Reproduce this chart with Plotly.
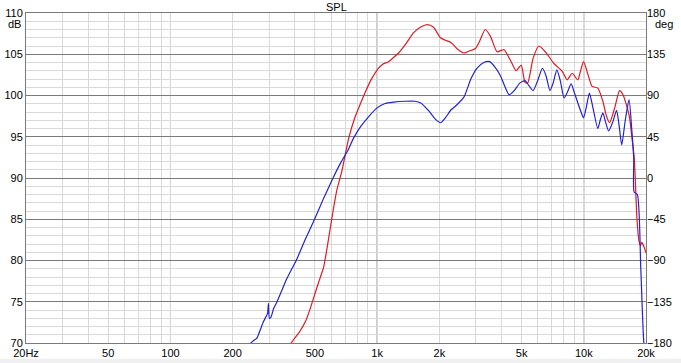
import plotly.graph_objects as go

# ---- data ----
blue_freq = [220, 250, 262, 272, 282, 290, 295, 298, 301, 306, 316, 328, 345, 364, 385, 406, 450, 498, 550, 612, 665, 724, 768, 830, 900, 1000,
             1085, 1200, 1380, 1525, 1625, 1770, 1920, 2025, 2140, 2285, 2390, 2630, 2840, 3040, 3285, 3505, 3725, 3950, 4165, 4350,
             4605, 4900, 5195, 5390, 5685, 5980, 6310, 6565, 6860, 7105, 7410, 7695, 8035, 8330, 8685, 9015, 9360, 9700, 9975,
             10290, 10650, 11075, 11690, 12005, 12370, 12740, 13190, 13820, 14405, 14800, 15260, 15875, 16560, 17050, 17440,
             17520, 18160, 18875, 19530, 20000]
blue_db = [68.8, 70.2, 70.6, 71.6, 72.6, 73.2, 73.6, 74.8, 73.0, 73.1, 74.2, 75.0, 76.3, 77.7, 78.9, 80.0, 82.6, 85.0, 87.5, 90.0, 91.8, 93.4, 94.8, 96.2, 97.3, 98.5,
           99.0, 99.2, 99.3, 99.3, 99.1, 98.2, 97.1, 96.7, 97.3, 98.3, 98.7, 99.8, 102.0, 103.3, 104.0, 104.1, 103.4, 102.4, 101.0, 100.1,
           100.6, 101.5, 101.8, 101.3, 100.6, 101.8, 103.3, 102.4, 100.6, 101.5, 103.1, 101.8, 99.7, 100.4, 101.4, 100.3, 99.1, 98.0, 97.3,
           98.6, 100.3, 98.5, 96.0, 97.0, 97.9, 96.8, 95.7, 96.8, 98.2, 96.5, 94.0, 97.0, 99.5, 96.0, 92.4,
           88.3, 88.0, 79.0, 70.0, 68.5]

red_freq = [350, 384, 420, 450, 475, 505, 530, 550, 575, 594, 615, 638, 676, 706, 730, 780, 830, 873, 930, 1014,
            1065, 1135, 1200, 1270, 1380, 1500, 1625, 1750, 1870, 2025, 2140, 2285, 2450, 2630, 2795, 2990, 3135, 3335, 3530,
            3805, 4020, 4120, 4410, 4705, 4980, 5195, 5350, 5685, 6060, 6565, 7160, 7880, 8310, 8780, 9350, 9650, 9975,
            10490, 10975, 11690, 12370, 12840, 13330, 14110, 14900, 15480, 15975, 16660, 17100, 17550, 18060, 18460,
            18800, 19100, 19600, 20000]
red_db = [67.0, 70.0, 71.3, 72.6, 74.2, 76.3, 77.9, 79.1, 81.8, 84.0, 86.3, 88.5, 90.9, 93.2, 94.9, 97.3, 99.0, 100.3, 101.8, 103.3,
          103.8, 104.1, 104.6, 105.15, 106.3, 107.6, 108.3, 108.6, 108.3, 107.0, 106.7, 106.4, 105.6, 105.15, 105.4, 105.7, 106.6, 108.0, 107.2,
          105.3, 105.5, 105.55, 104.3, 103.0, 103.7, 101.6, 101.5, 104.5, 106.0, 105.2, 103.9, 102.9, 101.9, 102.7, 101.9, 103.0, 104.1,
          102.5, 101.1, 100.9, 99.3, 97.6, 96.7, 98.5, 100.6, 100.1, 99.1, 97.3, 94.85, 92.4, 85.3, 82.5,
          81.8, 82.2, 81.6, 80.9]

x_grid_vals = [20, 30, 40, 50, 60, 70, 80, 90, 100, 200, 300, 400, 500, 600, 700, 800, 900,
               1000, 2000, 3000, 4000, 5000, 6000, 7000, 8000, 9000, 10000, 20000]
x_labels = {20: "20Hz", 50: "50", 100: "100", 200: "200", 500: "500", 1000: "1k", 2000: "2k",
            5000: "5k", 10000: "10k", 20000: "20k"}
major_decades = [100, 1000, 10000]
db_ticks = [70, 75, 80, 85, 90, 95, 100, 105, 110]
deg_ticks = [-180, -135, -90, -45, 0, 45, 90, 135, 180]

FONT = "Liberation Sans"
DARK = "#7a7a7a"
LIGHT = "#d9d9d9"

fig = go.Figure()
fig.add_trace(go.Scatter(x=red_freq, y=red_db, mode="lines",
                         line=dict(color="rgb(228,24,32)", width=1.2, shape="spline", smoothing=0.6),
                         showlegend=False, hoverinfo="skip"))
fig.add_trace(go.Scatter(x=blue_freq, y=blue_db, mode="lines",
                         line=dict(color="rgb(34,34,214)", width=1.2, shape="spline", smoothing=0.6),
                         showlegend=False, hoverinfo="skip"))
fig.add_trace(go.Scatter(x=[20, 20000], y=[-180, 180], yaxis="y2", mode="lines",
                         line=dict(width=0, color="rgba(0,0,0,0)"), showlegend=False, hoverinfo="skip"))

for d in major_decades:
    fig.add_shape(type="line", xref="x", yref="paper", x0=d, x1=d, y0=0, y1=1,
                  line=dict(color=DARK, width=1), layer="between")

fig.update_layout(
    width=681, height=363,
    margin=dict(l=26, r=35, t=13, b=20),
    paper_bgcolor="white", plot_bgcolor="white",
    font=dict(family=FONT, size=11, color="#000"),
    xaxis=dict(type="log", range=[1.30103, 4.30103], automargin=False,
               tickvals=x_grid_vals, ticktext=[x_labels.get(v, "") for v in x_grid_vals],
               showgrid=True, gridcolor=LIGHT, gridwidth=1, zeroline=False,
               showline=True, linecolor=DARK, linewidth=1, mirror=True, ticks="",
               tickfont=dict(size=11), tickangle=0),
    yaxis=dict(range=[70, 110], tickvals=db_ticks, showgrid=True, gridcolor=DARK, gridwidth=1,
               automargin=False,
               minor=dict(dtick=1, tick0=70, showgrid=True, gridcolor=LIGHT, gridwidth=1),
               zeroline=False, showline=True, linecolor=DARK, linewidth=1, mirror=True, ticks="",
               tickfont=dict(size=11)),
    yaxis2=dict(range=[-180, 180], tickvals=deg_ticks, overlaying="y", side="right", automargin=False,
                showgrid=False, zeroline=False, showline=False, ticks="", tickfont=dict(size=11)),
    annotations=[
        dict(text="SPL", xref="paper", yref="paper", x=0.5, y=1, yanchor="bottom", showarrow=False,
             font=dict(size=11), yshift=-2),
        dict(text="dB", xref="paper", yref="paper", x=0, y=1, xanchor="right", yanchor="top",
             showarrow=False, font=dict(size=11), xshift=-3, yshift=-3),
        dict(text="deg", xref="paper", yref="paper", x=1, y=1, xanchor="left", yanchor="top",
             showarrow=False, font=dict(size=11), xshift=7, yshift=-3),
    ],
    shapes=list(fig.layout.shapes) + [
        dict(type="rect", xref="paper", yref="paper", x0=-0.1, x1=1.1, y0=-0.1, y1=-0.048,
             fillcolor="#f0f0f0", line=dict(width=0), layer="below"),
    ],
)

fig.write_html("out.html", config={"displayModeBar": False},
               post_script="document.body.style.margin='0';document.body.style.overflow='hidden';")
